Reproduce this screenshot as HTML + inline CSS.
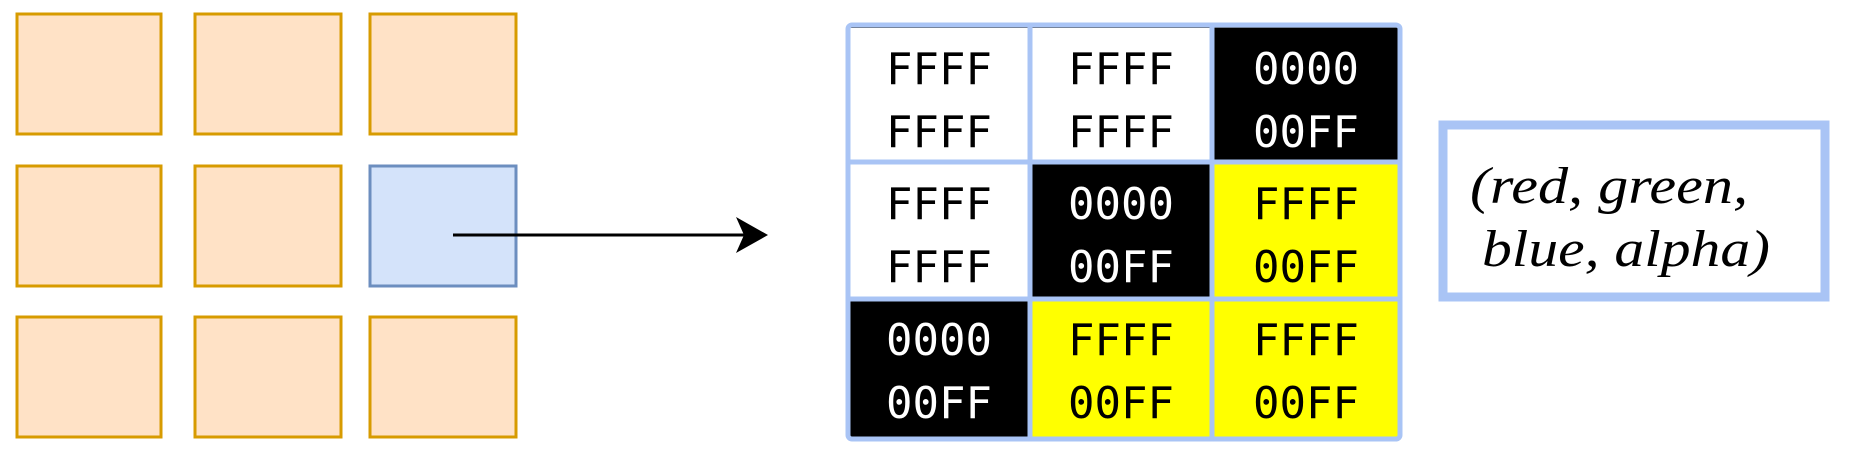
<!DOCTYPE html>
<html><head><style>html,body{margin:0;padding:0;background:#fff}svg{display:block}</style></head>
<body>
<svg width="1854" height="466" viewBox="0 0 1854 466" xmlns="http://www.w3.org/2000/svg">
<g fill="#ffe2c6" stroke="#d79b00" stroke-width="3">
<rect x="17" y="14" width="144" height="120"/><rect x="195" y="14" width="146" height="120"/><rect x="370" y="14" width="146" height="120"/>
<rect x="17" y="166" width="144" height="120"/><rect x="195" y="166" width="146" height="120"/>
<rect x="17" y="317" width="144" height="120"/><rect x="195" y="317" width="146" height="120"/><rect x="370" y="317" width="146" height="120"/>
</g>
<rect x="370" y="166" width="146" height="120" fill="#d4e3fa" stroke="#6c8ebf" stroke-width="3"/>
<line x1="453" y1="235" x2="745" y2="235" stroke="#000" stroke-width="3"/>
<polygon points="768,235 736,217 744,235 736,253" fill="#000"/>
<g stroke="#444" stroke-width="2">
<rect x="849" y="27" width="181" height="135" fill="#fff"/>
<rect x="1030" y="27" width="182" height="135" fill="#fff"/>
<rect x="1212" y="27" width="187" height="135" fill="#000"/>
<rect x="849" y="162" width="181" height="137" fill="#fff"/>
<rect x="1030" y="162" width="182" height="137" fill="#000"/>
<rect x="1212" y="162" width="187" height="137" fill="#ffff00"/>
<rect x="849" y="299" width="181" height="139" fill="#000"/>
<rect x="1030" y="299" width="182" height="139" fill="#ffff00"/>
<rect x="1212" y="299" width="187" height="139" fill="#ffff00"/>
</g>
<g stroke="#a9c4f5" stroke-width="5" fill="none" stroke-linecap="round">
<rect x="848" y="25" width="552" height="414" rx="4"/>
<line x1="1030" y1="25" x2="1030" y2="439"/><line x1="1212" y1="25" x2="1212" y2="439"/>
<line x1="848" y1="162" x2="1400" y2="162"/><line x1="848" y1="299" x2="1400" y2="299"/>
</g>
<g font-family="'DejaVu Sans Mono','Liberation Mono',monospace" font-size="44" text-anchor="middle">
<text x="939" y="84">FFFF</text><text x="939" y="147">FFFF</text>
<text x="1121" y="84">FFFF</text><text x="1121" y="147">FFFF</text>
<text x="1306" y="84" fill="#fff">0000</text><text x="1306" y="147" fill="#fff">00FF</text>
<text x="939" y="219">FFFF</text><text x="939" y="282">FFFF</text>
<text x="1121" y="219" fill="#fff">0000</text><text x="1121" y="282" fill="#fff">00FF</text>
<text x="1306" y="219">FFFF</text><text x="1306" y="282">00FF</text>
<text x="939" y="355" fill="#fff">0000</text><text x="939" y="418" fill="#fff">00FF</text>
<text x="1121" y="355">FFFF</text><text x="1121" y="418">00FF</text>
<text x="1306" y="355">FFFF</text><text x="1306" y="418">00FF</text>
</g>
<rect x="1443" y="125" width="382" height="172" fill="#fff" stroke="#a9c4f5" stroke-width="9"/>
<g font-family="'Liberation Serif',serif" font-style="italic" font-size="52">
<text x="1470" y="203" textLength="278" lengthAdjust="spacingAndGlyphs">(red, green,</text>
<text x="1482" y="266" textLength="288" lengthAdjust="spacingAndGlyphs">blue, alpha)</text>
</g>
</svg>
</body></html>
